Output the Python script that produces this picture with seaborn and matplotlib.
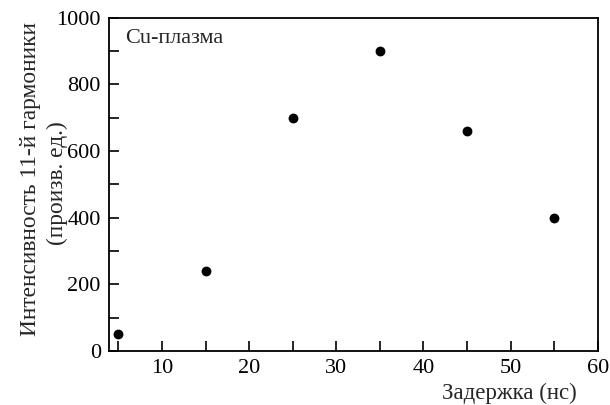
import matplotlib
matplotlib.use("Agg")
import matplotlib.pyplot as plt
import seaborn as sns
import pandas as pd
from matplotlib.ticker import MultipleLocator

delay = [5, 15, 25, 35, 45, 55]
intensity = [50, 240, 700, 900, 660, 400]

sns.set_style("ticks")
plt.rcParams['font.family'] = ['Liberation Serif', 'DejaVu Serif']

FS = 16

df = pd.DataFrame({"delay": delay, "intensity": intensity})

fig = plt.figure(figsize=(6.1, 4.05), dpi=100)
ax = fig.add_axes([0.179, 0.133, 0.801, 0.823])
sns.scatterplot(data=df, x="delay", y="intensity", ax=ax, color="black",
                s=50, edgecolor="black", linewidth=0, zorder=3)

ax.set_xlim(3.95, 60)
ax.set_ylim(0, 1000)
ax.xaxis.set_major_locator(MultipleLocator(10))
ax.xaxis.set_minor_locator(MultipleLocator(5))
ax.yaxis.set_major_locator(MultipleLocator(200))
ax.yaxis.set_minor_locator(MultipleLocator(100))
ax.set_xticks([10, 20, 30, 40, 50, 60])
ax.tick_params(axis="both", which="both", direction="in", top=False, right=False,
               labelsize=FS, colors="black", width=1.2)
ax.tick_params(axis="both", which="major", length=7, pad=6)
ax.tick_params(axis="both", which="minor", length=7)
for sp in ax.spines.values():
    sp.set_visible(True)
    sp.set_color("black")
    sp.set_linewidth(1.3)

ax.set_xlabel("Задержка (нс)", fontsize=16.5, ha="right")
ax.xaxis.set_label_coords(0.957, -0.095)

ax.set_ylabel("Интенсивность 11-й гармоники", fontsize=16.8, va="center")
ax.yaxis.set_label_coords(-0.162, 0.515)
ax.text(-0.106, 0.505, "(произв. ед.)", transform=ax.transAxes, rotation=90,
        ha="center", va="center", fontsize=16.8)

ax.text(0.033, 0.965, "Cu-плазма", transform=ax.transAxes, ha="left", va="top",
        fontsize=FS)

fig.savefig("out.png", dpi=100)
